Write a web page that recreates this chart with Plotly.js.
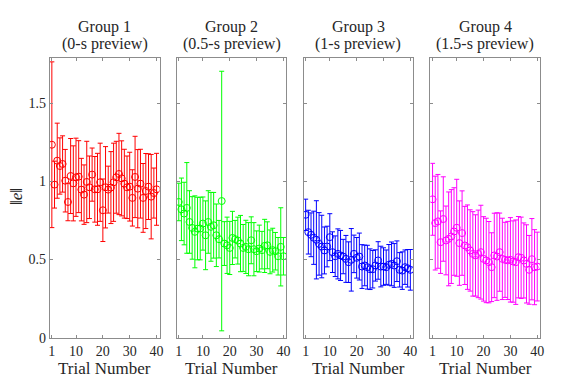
<!DOCTYPE html>
<html>
<head>
<meta charset="utf-8">
<script src="https://cdn.plot.ly/plotly-3.0.1.min.js"></script>
<style>
    html, body { margin: 0; padding: 0; background: #ffffff; }
    #graphCanvas { width: 574px; height: 385px; }
    /* единый шрифт с засечками для всех подписей */
    #graphCanvas text, #graphCanvas tspan { font-family: 'Liberation Serif' !important; }
</style>
</head>
<body>
<div id="graphCanvas"></div>
<script>
// ============ Данные ============
const trials = [1, 2, 3, 4, 5, 6, 7, 8, 9, 10, 11, 12, 13, 14, 15, 16, 17, 18, 19, 20,
                21, 22, 23, 24, 25, 26, 27, 28, 29, 30, 31, 32, 33, 34, 35, 36, 37, 38, 39, 40];

const groupTitles = ['Group 1', 'Group 2', 'Group 3', 'Group 4'];
const previewLabels = ['(0-s preview)', '(0.5-s preview)', '(1-s preview)', '(1.5-s preview)'];

const group1Mean = [1.234, 0.979, 1.132, 1.098, 1.111, 1.004, 0.868, 1.034, 0.987, 1.026,
                    1.030, 0.947, 0.915, 0.996, 0.962, 1.043, 0.949, 0.949, 0.994, 0.815,
                    0.962, 0.947, 0.960, 0.994, 1.026, 1.047, 1.019, 0.985, 0.962, 0.966,
                    0.894, 1.028, 0.953, 0.985, 0.894, 0.938, 0.966, 0.902, 0.925, 0.949];
const group1Err  = [0.53, 0.15, 0.24, 0.18, 0.18, 0.20, 0.12, 0.24, 0.24, 0.25,
                    0.23, 0.20, 0.19, 0.26, 0.20, 0.17, 0.21, 0.23, 0.25, 0.20,
                    0.26, 0.15, 0.23, 0.25, 0.23, 0.26, 0.24, 0.22, 0.20, 0.22,
                    0.18, 0.26, 0.25, 0.22, 0.22, 0.24, 0.21, 0.27, 0.16, 0.23];

const group2Mean = [0.868, 0.821, 0.794, 0.830, 0.740, 0.702, 0.677, 0.698, 0.698, 0.730,
                    0.655, 0.740, 0.709, 0.719, 0.655, 0.630, 0.874, 0.602, 0.591, 0.574,
                    0.638, 0.630, 0.621, 0.602, 0.574, 0.581, 0.566, 0.623, 0.566, 0.553,
                    0.570, 0.560, 0.587, 0.591, 0.549, 0.560, 0.553, 0.521, 0.581, 0.521];
const group2Err  = [0.12, 0.20, 0.20, 0.29, 0.20, 0.20, 0.23, 0.20, 0.20, 0.17,
                    0.22, 0.20, 0.22, 0.21, 0.20, 0.12, 0.83, 0.14, 0.18, 0.17,
                    0.17, 0.12, 0.15, 0.18, 0.15, 0.17, 0.17, 0.15, 0.17, 0.13,
                    0.15, 0.12, 0.17, 0.15, 0.14, 0.14, 0.12, 0.12, 0.25, 0.12];

const group3Mean = [0.786, 0.675, 0.658, 0.639, 0.626, 0.600, 0.583, 0.558, 0.583, 0.643,
                    0.547, 0.521, 0.536, 0.526, 0.519, 0.504, 0.483, 0.498, 0.536, 0.511,
                    0.519, 0.455, 0.462, 0.451, 0.438, 0.438, 0.462, 0.494, 0.455, 0.455,
                    0.451, 0.466, 0.472, 0.462, 0.489, 0.434, 0.429, 0.451, 0.444, 0.434];
const group3Err  = [0.10, 0.14, 0.14, 0.17, 0.25, 0.20, 0.20, 0.15, 0.13, 0.15,
                    0.13, 0.13, 0.16, 0.16, 0.11, 0.15, 0.13, 0.20, 0.12, 0.13,
                    0.15, 0.14, 0.13, 0.14, 0.13, 0.12, 0.10, 0.12, 0.13, 0.12,
                    0.11, 0.13, 0.14, 0.14, 0.13, 0.11, 0.12, 0.11, 0.12, 0.13];

const group4Mean = [0.885, 0.733, 0.744, 0.611, 0.759, 0.622, 0.632, 0.647, 0.679, 0.703,
                    0.605, 0.669, 0.590, 0.579, 0.558, 0.536, 0.526, 0.536, 0.547, 0.504,
                    0.494, 0.483, 0.451, 0.526, 0.519, 0.547, 0.504, 0.498, 0.494, 0.498,
                    0.487, 0.483, 0.515, 0.511, 0.494, 0.472, 0.434, 0.502, 0.451, 0.455];
const group4Err  = [0.23, 0.30, 0.30, 0.20, 0.27, 0.22, 0.30, 0.30, 0.28, 0.31,
                    0.27, 0.27, 0.25, 0.27, 0.26, 0.27, 0.26, 0.28, 0.30, 0.27,
                    0.27, 0.26, 0.22, 0.27, 0.28, 0.25, 0.26, 0.24, 0.25, 0.27,
                    0.26, 0.27, 0.26, 0.26, 0.24, 0.25, 0.22, 0.26, 0.24, 0.22];

const xTickVals = [1, 10, 20, 30, 40];
const yTickVals = [0, 0.5, 1, 1.5];
const yTickText = ['0', '0.5', '1', '1.5'];

// ============ Оформление ============
const CHART_W = 574, CHART_H = 385;
const SERIF = 'Liberation Serif';
const TEXT_COLOR = '#262626';
const AXIS_COLOR = '#8c8c8c';
const groupColors = ['#ff0000', '#00ff00', '#0000ff', '#ff00ff'];
const panelLeft = [49.7, 176.6, 303.5, 430.4];   // левый край каждой панели, px
const panelWidth = 109.8;
const plotTop = 57.8, plotBottom = 337.7;

const means = [group1Mean, group2Mean, group3Mean, group4Mean];
const errs = [group1Err, group2Err, group3Err, group4Err];

const toPaperX = x => x / CHART_W;
const toPaperY = y => 1 - y / CHART_H;

function buildTraces()
{
    return means.map((m, i) => ({
        x: trials,
        y: m,
        type: 'scatter',
        mode: 'markers',
        xaxis: i === 0 ? 'x' : 'x' + (i + 1),
        yaxis: i === 0 ? 'y' : 'y' + (i + 1),
        marker: { symbol: 'circle-open', size: 7, color: groupColors[i], line: { width: 1, color: groupColors[i] } },
        error_y: { type: 'data', array: errs[i], visible: true, color: groupColors[i], thickness: 1, width: 2.5 },
        showlegend: false,
        hoverinfo: 'x+y'
    }));
}

function textNote(text, x, y, size, extra)
{
    return Object.assign({
        text: text, xref: 'paper', yref: 'paper', x: x, y: y,
        xanchor: 'center', yanchor: 'middle', showarrow: false,
        font: { family: SERIF, size: size, color: TEXT_COLOR }
    }, extra || {});
}

function buildLayout()
{
    const layout = {
        width: CHART_W,
        height: CHART_H,
        margin: { t: 0, l: 0, r: 0, b: 0 },
        paper_bgcolor: '#ffffff',
        plot_bgcolor: '#ffffff',
        showlegend: false,
        annotations: []
    };

    for (let i = 0; i < 4; i++) {
        const sfx = i === 0 ? '' : String(i + 1);
        const left = panelLeft[i];
        layout['xaxis' + sfx] = {
            domain: [toPaperX(left), toPaperX(left + panelWidth)],
            anchor: 'y' + sfx,
            range: [0.2, 41.1],
            tickvals: xTickVals,
            ticks: 'inside', ticklen: 3, tickcolor: AXIS_COLOR, tickwidth: 1,
            showline: true, linecolor: AXIS_COLOR, linewidth: 1, mirror: 'ticks',
            showgrid: false, zeroline: false,
            tickfont: { family: SERIF, size: 14, color: TEXT_COLOR }
        };
        layout['yaxis' + sfx] = {
            domain: [toPaperY(plotBottom), toPaperY(plotTop)],
            anchor: 'x' + sfx,
            range: [0, 1.79],
            tickvals: yTickVals,
            ticktext: yTickText,
            showticklabels: i === 0,
            ticks: 'inside', ticklen: 3, tickcolor: AXIS_COLOR, tickwidth: 1,
            showline: true, linecolor: AXIS_COLOR, linewidth: 1, mirror: 'ticks',
            showgrid: false, zeroline: false,
            tickfont: { family: SERIF, size: 14, color: TEXT_COLOR }
        };

        const cx = toPaperX(left + panelWidth / 2);
        // заголовок в две строки + подпись оси X
        layout.annotations.push(textNote(groupTitles[i], cx, toPaperY(27.5), 16));
        layout.annotations.push(textNote(previewLabels[i], cx, toPaperY(44.5), 16));
        layout.annotations.push(textNote('Trial Number', cx, toPaperY(368), 17));
    }

    // подпись оси Y
    layout.annotations.push(textNote('‖<i>e</i>‖', toPaperX(17), toPaperY(197), 17, { textangle: -90 }));

    return layout;
}

Plotly.newPlot('graphCanvas', buildTraces(), buildLayout(), { displayModeBar: false, staticPlot: true });
</script>
</body>
</html>
